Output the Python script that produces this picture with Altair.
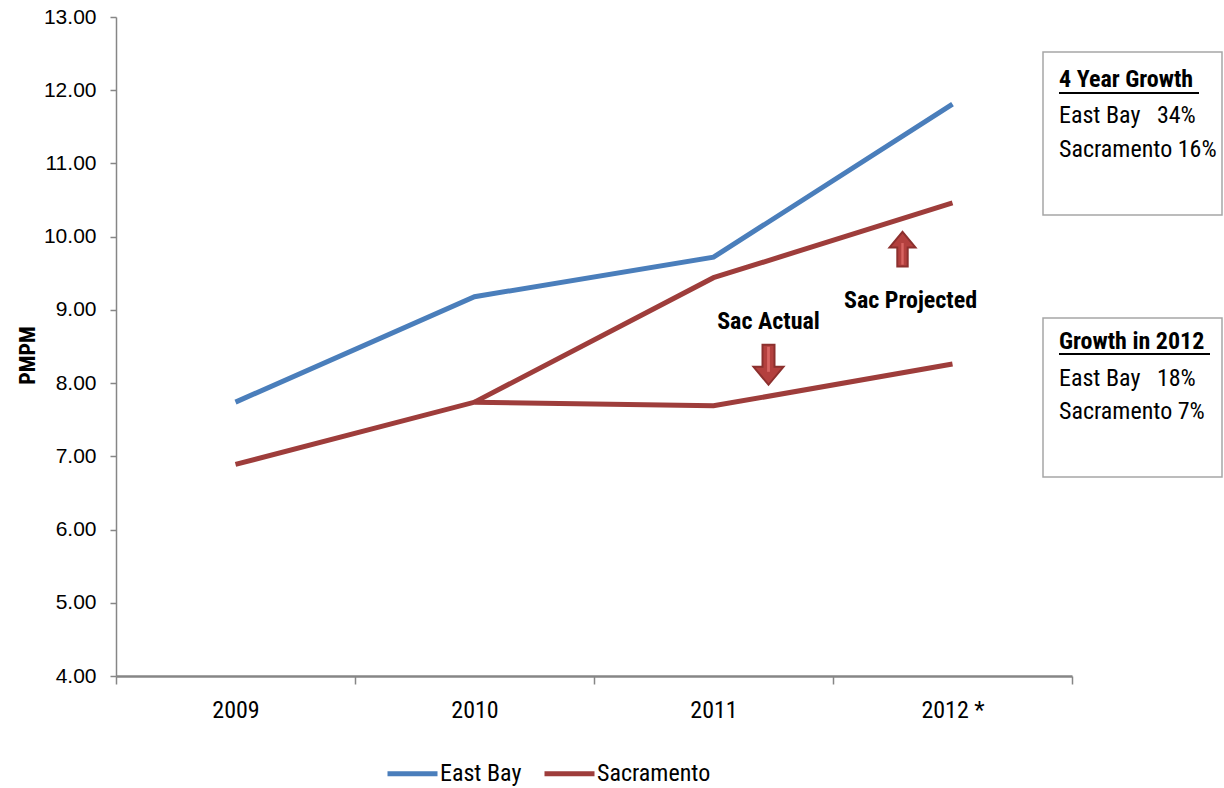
import altair as alt
import pandas as pd

# ---- data ----
years = ["2009", "2010", "2011", "2012 *"]
east_bay = [7.74, 9.18, 9.72, 11.81]
sac_actual = [6.89, 7.74, 7.69, 8.26]
proj_years = ["2010", "2011", "2012 *"]
sac_projected = [7.74, 9.44, 10.46]

series_names = ["East Bay", "Sacramento"]
series_colors = ["#4A7EBB", "#9E3D3B"]

box1_lines = ["4 Year Growth", "East Bay\u00a0\u00a0\u00a034%", "Sacramento 16%"]
box2_lines = ["Growth in 2012", "East Bay\u00a0\u00a0\u00a018%", "Sacramento 7%"]

NARROW = "Liberation Sans Narrow, Arial Narrow, Roboto Condensed, sans-serif"
GRAY = "#868686"

rows = []
for y, v in zip(years, east_bay):
    rows.append(dict(year=y, value=v, group="East Bay", series="East Bay"))
for y, v in zip(years, sac_actual):
    rows.append(dict(year=y, value=v, group="Sacramento", series="Sac Actual"))
for y, v in zip(proj_years, sac_projected):
    rows.append(dict(year=y, value=v, group="Sacramento", series="Sac Projected"))
df = pd.DataFrame(rows)

x_enc = alt.X(
    "year:O", sort=years,
    scale=alt.Scale(type="band", domain=years, paddingInner=0, paddingOuter=0),
    bandPosition=0.5,
    axis=alt.Axis(title=None, labelAngle=0, tickBand="extent", tickSize=8,
                  tickColor=GRAY, tickWidth=1.5, domainColor=GRAY, domainWidth=2.5,
                  labelFont=NARROW, labelFontSize=24, labelColor="black",
                  labelPadding=14),
)
y_enc = alt.Y(
    "value:Q",
    scale=alt.Scale(domain=[4, 13], nice=False, zero=False),
    axis=alt.Axis(values=list(range(4, 14)), format=".2f", grid=False,
                  title="PMPM", titleFont=NARROW, titleFontSize=22,
                  titleFontWeight="bold", titleColor="black",
                  titleX=-89, titleY=338, titleBaseline="middle", titleAlign="center",
                  labelFont="Liberation Sans", labelFontSize=21, labelColor="black",
                  labelPadding=14, tickSize=6, tickColor=GRAY, tickWidth=1.5,
                  domainColor=GRAY, domainWidth=1.5),
)

lines = alt.Chart(df).mark_line(strokeWidth=5).encode(
    x=x_enc, y=y_enc,
    color=alt.Color("group:N",
                    scale=alt.Scale(domain=series_names, range=series_colors),
                    legend=alt.Legend(title=None, orient="none", legendX=269, legendY=729,
                                      direction="horizontal", symbolType="stroke",
                                      symbolSize=2500, symbolStrokeWidth=5,
                                      labelFont=NARROW, labelFontSize=24,
                                      labelColor="black", columnPadding=12,
                                      labelOffset=0)),
    detail="series:N",
)

DOWN = "M -0.3 -1 L 0.3 -1 L 0.3 0.1 L 0.75 0.1 L 0 1 L -0.75 0.1 L -0.3 0.1 Z"
UP = "M -0.3 1 L 0.3 1 L 0.3 -0.1 L 0.75 -0.1 L 0 -1 L -0.75 -0.1 L -0.3 -0.1 Z"
STRIPE_D = "M -0.07 -0.9 L 0.07 -0.9 L 0.07 0.35 L -0.07 0.35 Z"
STRIPE_U = "M -0.07 0.9 L 0.07 0.9 L 0.07 -0.35 L -0.07 -0.35 Z"

def pt(year, value):
    return pd.DataFrame({"year": [year], "value": [value]})

layers = [lines]

# arrows
for year, value, shape, stripe, size, dx in [
    ("2011", 8.25, DOWN, STRIPE_D, 1600, 55),
    ("2012 *", 9.83, UP, STRIPE_U, 1200, -50),
]:
    layers.append(alt.Chart(pt(year, value)).mark_point(
        shape=shape, size=size, filled=True, fill="#B3403E", stroke="#8C302E",
        strokeWidth=2, opacity=1, xOffset=dx).encode(x=x_enc, y=y_enc))
    layers.append(alt.Chart(pt(year, value)).mark_point(
        shape=stripe, size=size, filled=True, fill="#D86562", strokeWidth=0,
        opacity=1, xOffset=dx).encode(x=x_enc, y=y_enc))

# annotation labels
for year, value, text, dx in [
    ("2011", 8.84, "Sac Actual", 55),
    ("2012 *", 9.12, "Sac Projected", -42),
]:
    layers.append(alt.Chart(pd.DataFrame({"year": [year], "value": [value], "t": [text]}))
                  .mark_text(font=NARROW, fontSize=24, fontWeight="bold", color="black",
                             dx=dx, baseline="middle")
                  .encode(x=x_enc, y=y_enc, text="t:N"))

# right-hand boxes
one = pd.DataFrame({"a": [0]})
for (top, bottom) in [(35, 198), (301, 460)]:
    layers.append(alt.Chart(one).mark_rect(fill="white", stroke="#A6A6A6", strokeWidth=1.5)
                  .encode(x=alt.value(927), x2=alt.value(1106),
                          y=alt.value(top), y2=alt.value(bottom)))

for lines_txt, ys, ul_y, ul_x2 in [
    (box1_lines, [63, 99, 133], 76, 1083),
    (box2_lines, [325, 362, 395], 337, 1094),
]:
    for i, (t, yy) in enumerate(zip(lines_txt, ys)):
        layers.append(alt.Chart(pd.DataFrame({"t": [t]}))
                      .mark_text(font=NARROW, fontSize=24,
                                 fontWeight="bold" if i == 0 else "normal",
                                 color="black", align="left", baseline="middle")
                      .encode(x=alt.value(943), y=alt.value(yy), text="t:N"))
    layers.append(alt.Chart(one).mark_rule(color="black", strokeWidth=2)
                  .encode(x=alt.value(943), x2=alt.value(ul_x2), y=alt.value(ul_y)))

chart = alt.layer(*layers).properties(
    width=956, height=659,
    autosize=alt.AutoSizeParams(type="none"),
    padding={"left": 116, "top": 17, "right": 152, "bottom": 112},
    background="white",
).configure_view(stroke=None)

chart.save("out.html", embed_options={"renderer": "svg", "actions": False})
